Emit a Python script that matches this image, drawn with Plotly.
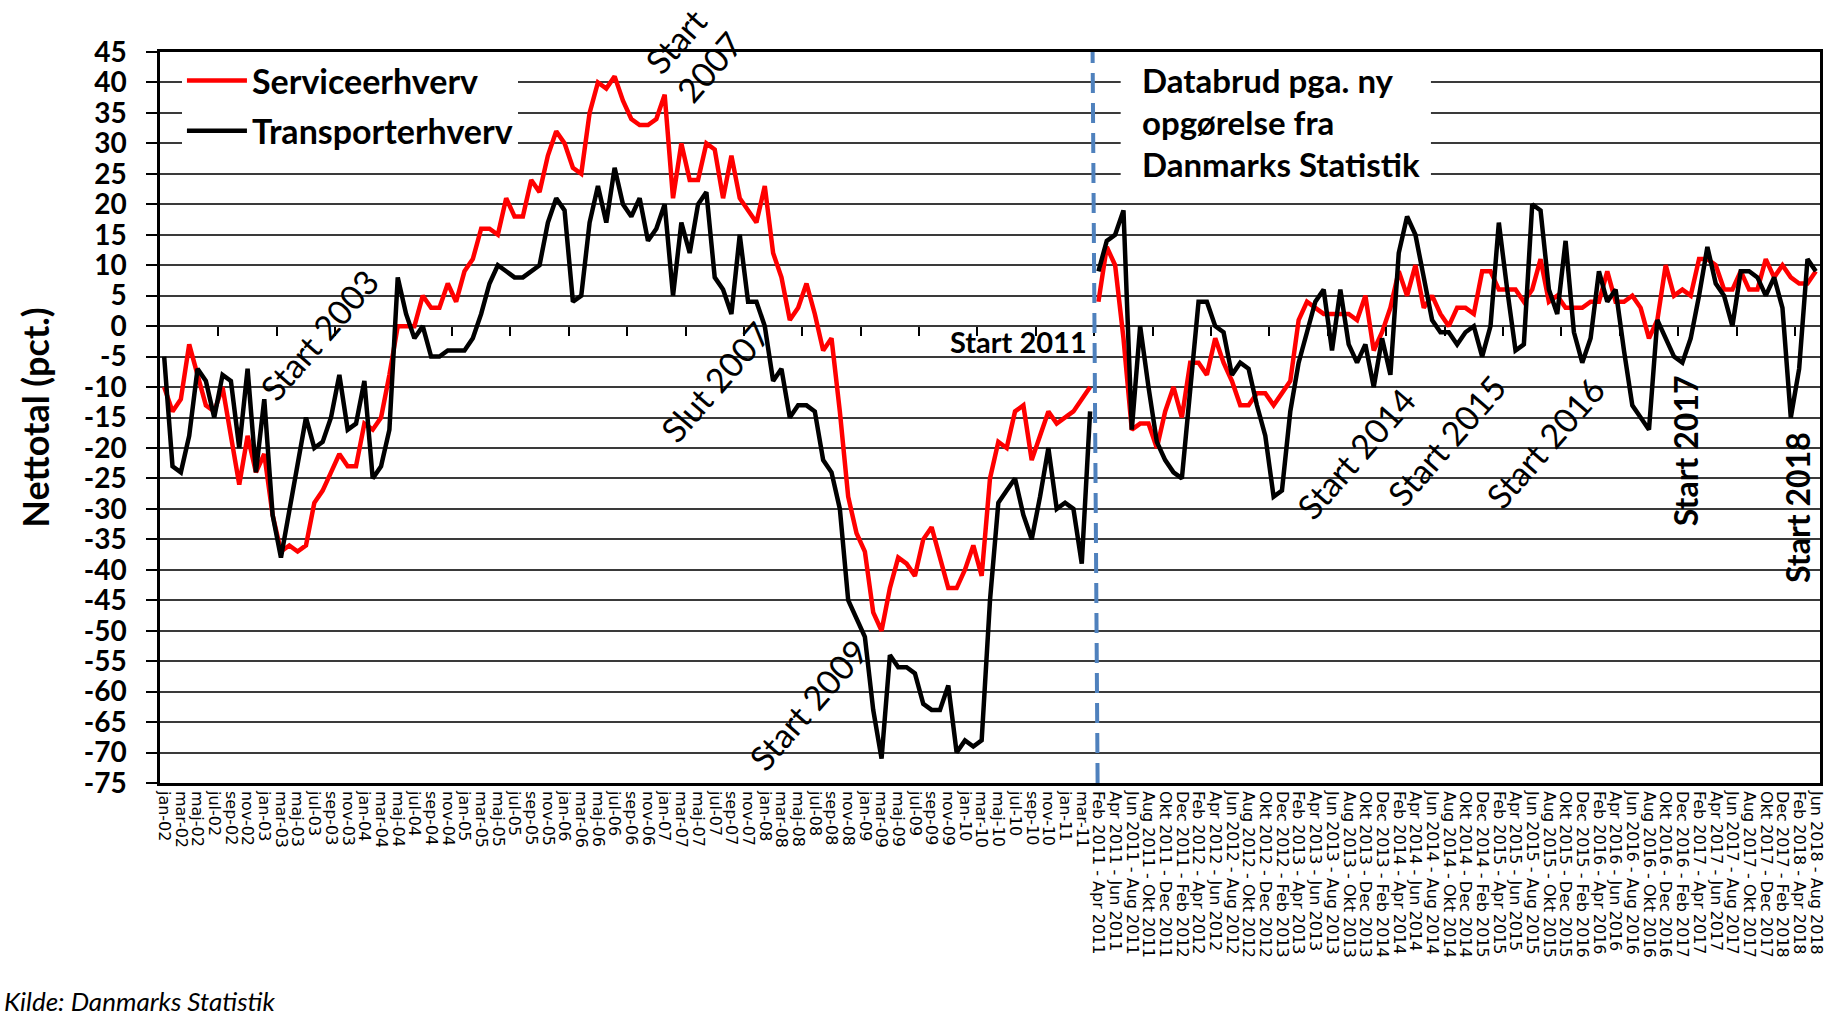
import plotly.graph_objects as go

# ---------------- categories ----------------
MONTHS_OLD = ['jan', 'feb', 'mar', 'apr', 'maj', 'jun', 'jul', 'aug', 'sep', 'okt', 'nov', 'dec']
MONTHS_NEW = ['Jan', 'Feb', 'Mar', 'Apr', 'Maj', 'Jun', 'Jul', 'Aug', 'Sep', 'Okt', 'Nov', 'Dec']

# old monthly series: jan-02 ... apr-11
cats_old = [f"{MONTHS_OLD[m]}-{y % 100:02d}" for y in range(2002, 2012) for m in range(12)][:112]


def window(y, m):
    m2 = m + 2
    y2 = y + m2 // 12
    return f"{MONTHS_NEW[m]} {y} - {MONTHS_NEW[m2 % 12]} {y2}"


# new 3-month rolling periods: Feb 2011 - Apr 2011 ... Feb 2018 - Apr 2018, then two last periods
cats_new = []
yy, mm = 2011, 1
for _ in range(85):
    cats_new.append(window(yy, mm))
    mm += 1
    if mm == 12:
        mm, yy = 0, yy + 1
cats_new += [window(2018, 3), window(2018, 5)]

all_cats = cats_old + cats_new
x_ticktext = all_cats[::2]

# ---------------- values ----------------
service_old = [-10, -14, -12, -3, -8, -13, -14, -10, -18, -26,
               -18, -24, -21, -31, -37, -36, -37, -36, -29, -27,
               -24, -21, -23, -23, -16, -17, -15, -8, 0, 0,
               0, 5, 3, 3, 7, 4, 9, 11, 16, 16,
               15, 21, 18, 18, 24, 22, 28, 32, 30, 26,
               25, 35, 40, 39, 41, 37, 34, 33, 33, 34,
               38, 21, 30, 24, 24, 30, 29, 21, 28, 21,
               19, 17, 23, 12, 8, 1, 3, 7, 2, -4,
               -2, -14, -28, -34, -37, -47, -50, -43, -38, -39,
               -41, -35, -33, -38, -43, -43, -40, -36, -41, -25,
               -19, -20, -14, -13, -22, -18, -14, -16, -15, -14,
               -12, -10]

transport_old = [-5, -23, -24, -18, -7, -9, -15, -8, -9, -20,
                 -7, -24, -12, -31, -38, -30, -22, -15, -20, -19,
                 -15, -8, -17, -16, -9, -25, -23, -17, 8, 2,
                 -2, 0, -5, -5, -4, -4, -4, -2, 2, 7,
                 10, 9, 8, 8, 9, 10, 17, 21, 19, 4,
                 5, 17, 23, 17, 26, 20, 18, 21, 14, 16,
                 20, 5, 17, 12, 20, 22, 8, 6, 2, 15,
                 4, 4, 0, -9, -7, -15, -13, -13, -14, -22,
                 -24, -30, -45, -48, -51, -63, -71, -54, -56, -56,
                 -57, -62, -63, -63, -59, -70, -68, -69, -68, -45,
                 -29, -27, -25, -31, -35, -28, -20, -30, -29, -30,
                 -39, -14]

service_new = [4, 13, 10, -2, -17, -16, -16, -20, -14, -10,
               -15, -6, -6, -8, -2, -6, -9, -13, -13, -11,
               -11, -13, -11, -9, 1, 4, 3, 2, 2, 2,
               2, 1, 5, -4, -1, 3, 9, 5, 10, 3,
               5, 2, 0, 3, 3, 2, 9, 9, 6, 6,
               6, 4, 6, 11, 4, 5, 3, 3, 3, 4,
               4, 9, 4, 4, 5, 3, -2, 1, 10, 5,
               6, 5, 11, 11, 10, 6, 6, 9, 6, 6,
               11, 8, 10, 8, 7, 7, 9]

transport_new = [9, 14, 15, 19, -17, 0, -10, -19, -22, -24,
                 -25, -10, 4, 4, 0, -1, -8, -6, -7, -13,
                 -18, -28, -27, -14, -6, -1, 4, 6, -4, 6,
                 -3, -6, -3, -10, -2, -8, 12, 18, 15, 8,
                 1, -1, -1, -3, -1, 0, -5, 0, 17, 6,
                 -4, -3, 20, 19, 6, 2, 14, -1, -6, -2,
                 9, 4, 6, -4, -13, -15, -17, 1, -2, -5,
                 -6, -2, 5, 13, 7, 5, 0, 9, 9, 8,
                 5, 8, 3, -15, -7, 11, 9]

y_tickvals = list(range(-75, 50, 5))
y_ticktext = [str(v) for v in y_tickvals]

# ---------------- figure ----------------
RED = '#FF0000'
BLACK = '#000000'
LW = 4.5
FONT = 'Lato'

fig = go.Figure()
fig.add_trace(go.Scatter(x=cats_old, y=service_old, mode='lines', name='Serviceerhverv',
                         legendgroup='s', line=dict(color=RED, width=LW)))
fig.add_trace(go.Scatter(x=cats_new, y=service_new, mode='lines', name='Serviceerhverv',
                         legendgroup='s', showlegend=False, line=dict(color=RED, width=LW)))
fig.add_trace(go.Scatter(x=cats_old, y=transport_old, mode='lines', name='Transporterhverv',
                         legendgroup='t', line=dict(color=BLACK, width=LW)))
fig.add_trace(go.Scatter(x=cats_new, y=transport_new, mode='lines', name='Transporterhverv',
                         legendgroup='t', showlegend=False, line=dict(color=BLACK, width=LW)))
# helper trace so the tick-mark axis crossing at zero is drawn
fig.add_trace(go.Scatter(x=[None], y=[None], xaxis='x2', yaxis='y', showlegend=False,
                         hoverinfo='skip', mode='lines'))

L, R, T, B = 160, 14, 52, 233
W, H = 1838, 1016
PW, PH = W - L - R, H - T - B


def px(x):
    return (x - L) / PW


def py(y):
    return (H - B - y) / PH


annotations = []


def ann(text, x, y, size, angle=0, bold=False, xanchor='center', italic=False):
    annotations.append(dict(
        text=text, x=px(x), y=py(y), xref='paper', yref='paper', showarrow=False,
        textangle=angle, xanchor=xanchor, yanchor='middle',
        font=dict(family=FONT, size=size, color='black',
                  weight='bold' if bold else 'normal',
                  style='italic' if italic else 'normal')))


ann('Start 2003', 319, 334, 34, -49)
ann('Start', 677, 41, 34, -49)
ann('2007', 710, 66, 34, -49)
ann('Slut 2007', 716, 381, 34, -49)
ann('Start 2009', 809, 704, 34, -49)
ann('Start 2011', 1091, 341, 29, 0, bold=True, xanchor='right')
ann('Databrud pga. ny', 1142, 80, 33, 0, bold=True, xanchor='left')
ann('opgørelse fra', 1142, 122, 33, 0, bold=True, xanchor='left')
ann('Danmarks Statistik', 1142, 164, 33, 0, bold=True, xanchor='left')
ann('Start 2014', 1358, 453, 34, -49)
ann('Start 2015', 1450, 440, 34, -49)
ann('Start 2016', 1548, 442, 34, -49)
ann('Start 2017', 1690, 451, 32, -90, bold=True)
ann('Start 2018', 1801, 508, 32, -90, bold=True)
ann('Kilde: Danmarks Statistik', 2, 1001, 26, 0, xanchor='left', italic=True)

shapes = [
    # white box behind the note text
    dict(type='rect', xref='paper', yref='paper', x0=px(1123), x1=px(1434), y0=py(186), y1=py(55),
         fillcolor='white', line=dict(width=0), layer='above'),
    # data-break dashed line
    dict(type='line', xref='x', yref='paper', x0=111.9, x1=111.3, y0=0, y1=1,
         line=dict(color='#4F81BD', width=4, dash='20px,10px'), layer='above'),
]

fig.update_layout(
    width=W, height=H,
    margin=dict(l=L, r=R, t=T, b=B, pad=0),
    paper_bgcolor='white', plot_bgcolor='white',
    showlegend=True,
    legend=dict(x=px(182), y=py(52), xanchor='left', yanchor='top', bgcolor='white',
                borderwidth=0, font=dict(family=FONT, size=34, color='black', weight='bold'),
                itemwidth=60, tracegroupgap=3, traceorder='grouped'),
    xaxis=dict(type='category', categoryorder='array', categoryarray=all_cats,
               range=[-0.5, len(all_cats) - 0.5], tickmode='array',
               tickvals=x_ticktext, ticktext=x_ticktext, tickangle=90,
               tickfont=dict(family='DejaVu Sans', size=16, color='black'),
               showgrid=False, zeroline=False, ticks='', showline=True,
               linecolor='black', linewidth=2.5, mirror=True, ticklabelstandoff=2),
    xaxis2=dict(overlaying='x', anchor='free', position=75 / 120, side='bottom',
                type='linear', range=[-0.5, len(all_cats) - 0.5], tickmode='array',
                tickvals=[7 * k - 0.5 for k in range(1, 29)], ticks='outside', ticklen=9,
                tickwidth=2, tickcolor='black', showticklabels=False, showgrid=False,
                showline=False, zeroline=False),
    yaxis=dict(range=[-75, 45], tickmode='array', tickvals=y_tickvals, ticktext=y_ticktext,
               showgrid=True, gridcolor='#3a3a3a', gridwidth=1.6, zeroline=False,
               showline=True, linecolor='black', linewidth=2.5, mirror=True,
               ticks='outside', ticklen=11, tickwidth=2, tickcolor='black',
               tickfont=dict(family=FONT, size=28, color='black', weight='bold'),
               ticklabelstandoff=14,
               title=dict(text='Nettotal (pct.)', standoff=24,
                          font=dict(family=FONT, size=36, color='black', weight='bold'))),
    annotations=annotations,
    shapes=shapes,
)

fig.write_html("out.html", config={'displayModeBar': False},
               post_script="document.body.style.margin='0';")
